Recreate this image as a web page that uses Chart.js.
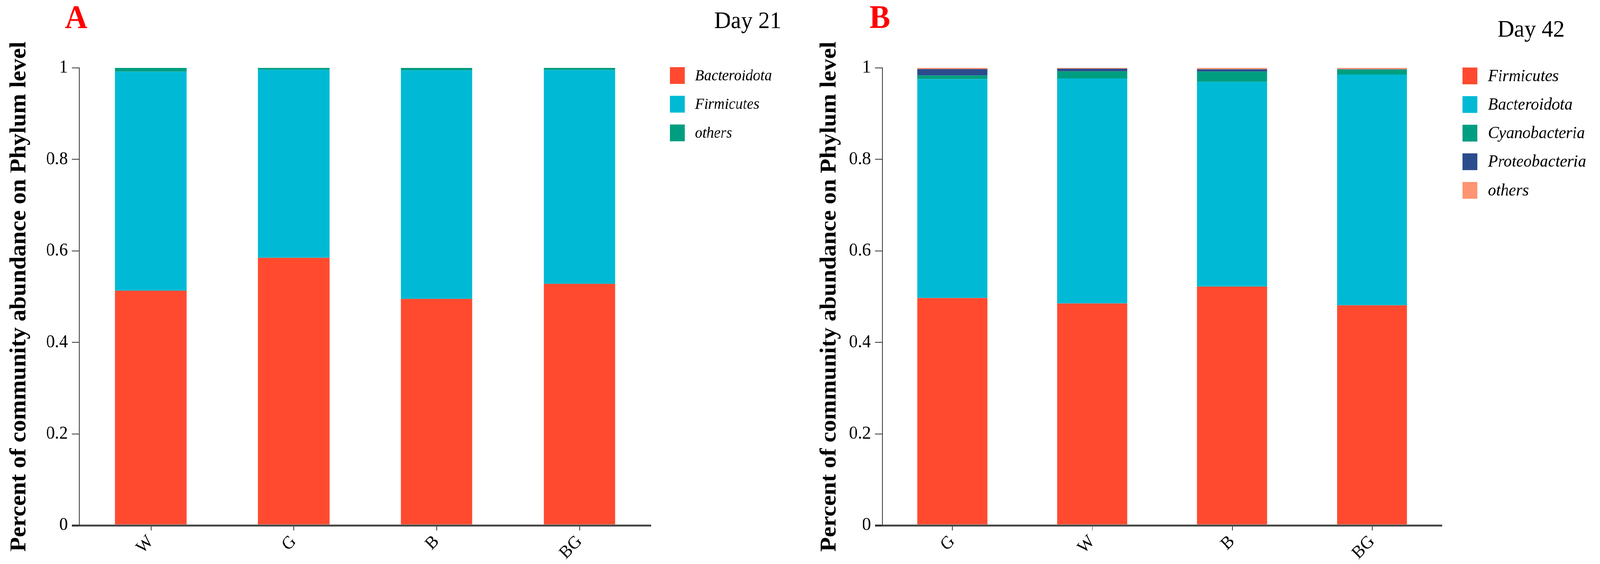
<!DOCTYPE html>
<html>
<head>
<meta charset="utf-8">
<script src="https://cdn.jsdelivr.net/npm/chart.js@4.4.1/dist/chart.umd.min.js"></script>
<style>
  html, body { margin: 0; padding: 0; background: #fff; overflow: hidden; }
  #wrap { position: absolute; left: 0; top: 0; width: 4312px; height: 1445px; transform-origin: 0 0; }
  .panel { position: absolute; top: 0; width: 2156px; height: 1445px; }
  #pA { left: 0; }
  #pB { left: 2156px; }
</style>
</head>
<body>
<div id="wrap">
<div class="panel" id="pA"><canvas id="cA" width="2156" height="1445"></canvas></div>
<div class="panel" id="pB"><canvas id="cB" width="2156" height="1445"></canvas></div>
</div>
<script>
// ---------- DATA ----------
const categoriesA = ['W', 'G', 'B', 'BG'];
const bacteroidotaA = [0.513, 0.585, 0.495, 0.528];
const firmicutesA   = [0.479, 0.411, 0.4996, 0.4674];
const othersA       = [0.008, 0.004, 0.0054, 0.0046];

const categoriesB = ['G', 'W', 'B', 'BG'];
const firmicutesB     = [0.497, 0.485, 0.522, 0.481];
const bacteroidotaB   = [0.4786, 0.492, 0.4475, 0.5045];
const cyanobacteriaB  = [0.0079, 0.0156, 0.0227, 0.011];
const proteobacteriaB = [0.0139, 0.0057, 0.0048, 0.0005];
const othersB         = [0.0026, 0.0017, 0.003, 0.003];

const yTicks = [0, 0.2, 0.4, 0.6, 0.8, 1];
const yTickLabels = ['0', '0.2', '0.4', '0.6', '0.8', '1'];
const yTitle = 'Percent of community abundance on Phylum level';

// ---------- FIT THE 4312x1445 DESIGN INTO THE ACTUAL VIEWPORT ----------
const wrap = document.getElementById('wrap');
const sx = window.innerWidth / 4312, sy = window.innerHeight / 1445;
wrap.style.transform = 'scale(' + sx + ',' + sy + ')';

// ---------- STYLE ----------
const SERIF = '"Liberation Serif", "Times New Roman", serif';
const RED = '#FF4A2F', CYAN = '#00BAD5', GREEN = '#009E80', BLUE = '#2B4C8C', SALMON = '#FF9472';

const overlay = {
  id: 'overlay',
  afterDraw(chart, args, o) {
    const ctx = chart.ctx;
    ctx.save();
    ctx.textAlign = 'left';
    ctx.textBaseline = 'alphabetic';
    ctx.fillStyle = '#ff0000';
    ctx.font = 'bold 84px ' + SERIF;
    ctx.fillText(o.letter, o.letterX, o.letterY);
    ctx.fillStyle = '#000';
    ctx.font = o.daySize + 'px ' + SERIF;
    ctx.fillText(o.day, o.dayX, o.dayY);
    ctx.font = 'italic ' + o.legSize + 'px ' + SERIF;
    ctx.textBaseline = 'middle';
    chart.data.datasets.forEach((ds, i) => {
      const top = o.legTop + i * o.legStep;
      ctx.fillStyle = ds.backgroundColor;
      ctx.fillRect(o.boxX, top, 40, 43);
      ctx.fillStyle = '#000';
      ctx.fillText(ds.label, o.textX, top + 23);
    });
    ctx.restore();
  }
};

function makeChart(id, cats, datasets, yWidth, padRight, titlePad, ov) {
  return new Chart(document.getElementById(id), {
    type: 'bar',
    data: { labels: cats, datasets: datasets.map(d => ({
      label: d[0], data: d[1], backgroundColor: d[2], borderWidth: 0,
      categoryPercentage: 1.0, barPercentage: 0.5
    })) },
    plugins: [overlay],
    options: {
      responsive: false,
      animation: false,
      devicePixelRatio: 1,
      layout: { padding: { left: 0, right: padRight, top: 174, bottom: 0 } },
      plugins: { legend: { display: false }, tooltip: { enabled: false }, overlay: ov },
      scales: {
        x: {
          stacked: true,
          afterFit: s => { s.height = 99; },
          border: { display: true, color: '#4a4a4a', width: 5 },
          grid: { display: true, drawOnChartArea: false, drawTicks: true, offset: false,
                  tickLength: 13, tickColor: '#333', lineWidth: 2 },
          ticks: { color: '#000', font: { family: SERIF, size: 46 }, minRotation: 45, maxRotation: 45, padding: 2 }
        },
        y: {
          stacked: true, min: 0, max: 1,
          afterFit: s => { s.width = yWidth; },
          afterBuildTicks: s => { s.ticks = yTicks.map(v => ({ value: v })); },
          border: { display: true, color: '#333', width: 2 },
          grid: { display: true, drawOnChartArea: false, drawTicks: true, tickLength: 20,
                  tickColor: '#333', lineWidth: c => (c.tick && c.tick.value === 0 ? 5 : 2) },
          ticks: { color: '#000', font: { family: SERIF, size: 47 }, padding: 11,
                   callback: (v) => yTickLabels[yTicks.indexOf(v)] },
          title: { display: true, text: yTitle, color: '#000',
                   font: { family: SERIF, size: 61, weight: 'bold' }, padding: { top: titlePad, bottom: 0 } }
        }
      }
    }
  });
}

makeChart('cA', categoriesA, [
  ['Bacteroidota', bacteroidotaA, RED],
  ['Firmicutes', firmicutesA, CYAN],
  ['others', othersA, GREEN]
], 214, 402, 16, { letter: 'A', letterX: 175, letterY: 72, day: 'Day 21', daySize: 62, dayX: 1925, dayY: 72,
              boxX: 1805, textX: 1873, legTop: 172, legStep: 73.5, legSize: 40 });

makeChart('cB', categoriesB, [
  ['Firmicutes', firmicutesB, RED],
  ['Bacteroidota', bacteroidotaB, CYAN],
  ['Cyanobacteria', cyanobacteriaB, GREEN],
  ['Proteobacteria', proteobacteriaB, BLUE],
  ['others', othersB, SALMON]
], 222, 426, 44, { letter: 'B', letterX: 187, letterY: 72, day: 'Day 42', daySize: 62, dayX: 1880, dayY: 94,
              boxX: 1785, textX: 1854, legTop: 173, legStep: 73.3, legSize: 44 });
</script>
</body>
</html>
